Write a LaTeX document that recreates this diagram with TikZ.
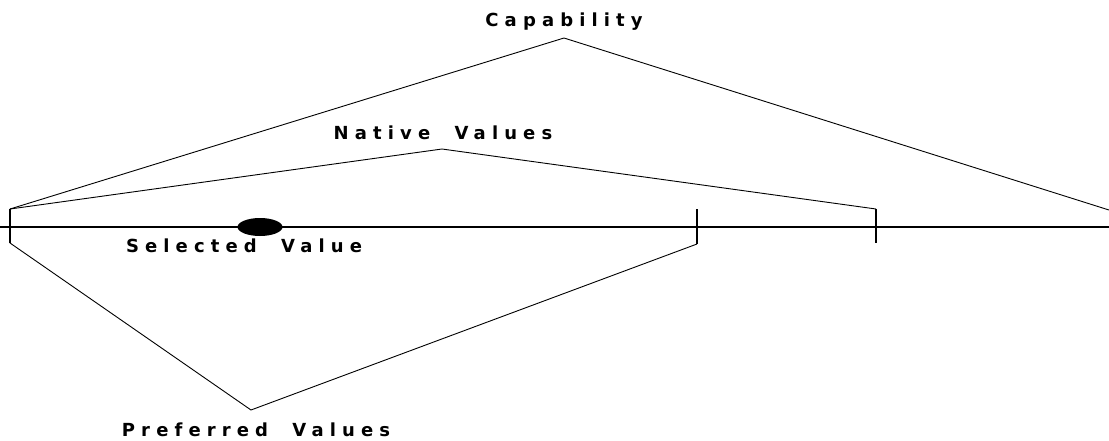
\documentclass[tikz,border=0pt]{standalone}
\usepackage{fontspec}
\usetikzlibrary{shapes.geometric}
\newfontfamily\labelfont[LetterSpace=34]{DejaVu Sans Bold}
% wide gap between the words of a label
\newcommand\wgap{\hspace{12pt} }
\begin{document}
\begin{tikzpicture}[x=1pt,y=-1pt,
  axis/.style={line width=2pt},
  tickmark/.style={line width=2pt},
  span/.style={line width=0.9pt},
  lbl/.style={font=\labelfont\fontsize{18}{20}\selectfont, inner sep=0pt}]
\useasboundingbox (0,0) rectangle (1109,440);
% axis with end/tick marks
\coordinate (a0) at (0,227);
\coordinate (a1) at (1109,227);
\draw[axis] (a0) -- (a1);
\coordinate (t0a) at (10,209); \coordinate (t0b) at (10,243);
\coordinate (t1a) at (697,209); \coordinate (t1b) at (697,244);
\coordinate (t2a) at (876,209); \coordinate (t2b) at (876,243);
\draw[tickmark] (t0a) -- (t0b);
\draw[tickmark] (t1a) -- (t1b);
\draw[tickmark] (t2a) -- (t2b);
% selected value marker
\node[fill=black, ellipse, minimum width=45pt, minimum height=18pt, inner sep=0pt] (sel) at (260,227) {};
% spans
\coordinate (capapex) at (564,38);
\coordinate (capend) at (1109,210);
\draw[span] (t0a) -- (capapex) -- (capend);
\coordinate (natapex) at (442,149);
\draw[span] (t0a) -- (natapex) -- (t2a);
\coordinate (prefapex) at (251,410);
\draw[span] (t0b) -- (prefapex) -- (t1b);
% labels
\node[lbl] (cap) at (564,22) {Capability};
\node[lbl] (nat) at (443,133) {Native\wgap Values};
\node[lbl] (selv) at (244,246) {Selected\wgap Value};
\node[lbl] (pref) at (256,430) {Preferred\wgap Values};
\end{tikzpicture}
\end{document}
